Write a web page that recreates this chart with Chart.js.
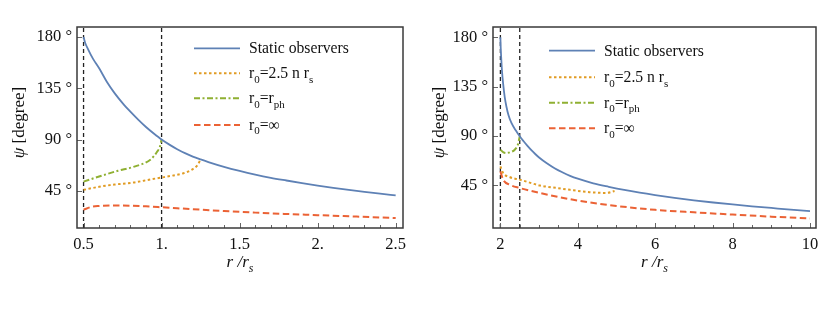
<!DOCTYPE html>
<html>
<head>
<meta charset="utf-8">
<script src="https://cdn.jsdelivr.net/npm/chart.js@4.4.0/dist/chart.umd.min.js"></script>
<style>
  html,body{margin:0;padding:0;background:#fff;}
  #wrap{position:relative;width:830px;height:312px;}
  canvas{position:absolute;top:0;}
  #c1{left:0;} #c2{left:415px;}
</style>
</head>
<body>
<div id="wrap">
<canvas id="c1" width="415" height="312"></canvas>
<canvas id="c2" width="415" height="312"></canvas>
</div>
<script>
// ---------- DATA ----------
// Left panel
const leftStaticX  = [0.5, 0.51, 0.53, 0.56, 0.6, 0.65, 0.7, 0.75, 0.8, 0.85, 0.9, 0.95, 1.0, 1.05, 1.1, 1.15, 1.2, 1.25, 1.3, 1.4, 1.5, 1.6, 1.7, 1.8, 1.9, 2.0, 2.1, 2.2, 2.3, 2.4, 2.5];
const leftStaticY  = [180, 175, 169, 161, 152.5, 140.5, 130.5, 122, 114.5, 107.5, 101, 95.3, 90, 85.5, 81.5, 78, 75, 72.5, 70.2, 66, 62.4, 59.2, 56.4, 54, 51.7, 49.5, 47.5, 45.7, 44.0, 42.4, 40.9];
const leftOrangeX  = [0.5, 0.6, 0.7, 0.82, 0.93, 1.0, 1.07, 1.14, 1.2, 1.23, 1.25];
const leftOrangeY  = [45.8, 48.5, 50.5, 52.2, 55, 56.6, 58.3, 60.4, 64, 67.5, 72.7];
const leftGreenX   = [0.5, 0.61, 0.72, 0.82, 0.93, 0.97, 0.99, 1.0];
const leftGreenY   = [53, 58, 62.5, 66, 72.5, 79, 84, 90];
const leftRedX     = [0.5, 0.55, 0.6, 0.7, 0.8, 0.9, 1.0, 1.2, 1.4, 1.6, 1.8, 2.0, 2.25, 2.5];
const leftRedY     = [28.3, 30.8, 31.6, 32.1, 31.9, 31.3, 30.5, 28.8, 27.2, 25.8, 24.6, 23.6, 22.3, 21];
const leftVLines   = [0.5, 1.0];
const leftXTicks   = [0.5, 1, 1.5, 2, 2.5];
const leftXLabels  = ['0.5', '1.', '1.5', '2.', '2.5'];
const leftXMinorStep = 0.1;

// Right panel
const rightStaticX = [2, 2.008, 2.02, 2.04, 2.07, 2.11, 2.155, 2.21, 2.285, 2.4, 2.5, 2.6, 2.7, 2.8, 2.9, 3.0, 3.2, 3.4, 3.6, 3.8, 4.0, 4.4, 4.8, 5.2, 5.6, 6.0, 6.5, 7.0, 7.5, 8.0, 8.5, 9.0, 9.5, 10];
const rightStaticY = [180, 171, 162, 150, 138, 126, 117, 109, 102, 95, 89.8, 85.3, 81.1, 77.2, 73.7, 70.5, 65.2, 60.7, 57, 53.8, 51.2, 47, 43.8, 40.9, 38.4, 36.2, 33.7, 31.5, 29.5, 27.7, 26.0, 24.5, 23.0, 21.6];
const rightOrangeX = [2, 2.07, 2.25, 2.5, 3.02, 3.5, 3.8, 4.3, 4.75, 4.95];
const rightOrangeY = [62.4, 56.4, 52.5, 50.3, 45, 42.5, 41, 38.9, 38.2, 40];
const rightGreenX  = [2, 2.08, 2.155, 2.25, 2.37, 2.45, 2.5];
const rightGreenY  = [77.6, 75.2, 74.6, 75.3, 77.6, 82, 89.6];
const rightRedX    = [2, 2.07, 2.24, 2.5, 3.02, 3.8, 4.5, 5, 6, 7, 8, 9, 10];
const rightRedY    = [57.8, 50.3, 45.7, 42.7, 38.2, 32.5, 28.5, 26.3, 22.8, 20.5, 18.5, 16.6, 15];
const rightVLines  = [2, 2.5];
const rightXTicks  = [2, 4, 6, 8, 10];
const rightXLabels = ['2', '4', '6', '8', '10'];
const rightXMinorStep = 0.5;

// shared
const yTicks      = [45, 90, 135, 180];
const yTickLabels = ['45 °', '90 °', '135 °', '180 °'];
const legendLabels = [
  [['Static observers','n']],
  [['r','n'],['0','sub'],['=2.5 n r','n'],['s','sub']],
  [['r','n'],['0','sub'],['=r','n'],['ph','sub']],
  [['r','n'],['0','sub'],['=\u221E','n']]
];
const xTitle = [['r /r','i'],['s','subi']];
const yTitle = [['\u03C8','i'],[' [degree]','n']];

// ---------- STYLE ----------
const FONT = '"Liberation Serif", "DejaVu Serif", serif';
const COLORS = ['#5E81B5', '#E19C24', '#8FB032', '#EB6235'];
const DASHES = [[], [2.5, 2.5], [6, 2.5, 2, 2.5], [6.5, 3.5]];
const WIDTHS = [1.8, 2, 2, 2];

function pts(xs, ys){ return xs.map((x,i)=>({x:x, y:ys[i]})); }

function segFont(st, size){
  const it = (st==='i'||st==='subi') ? 'italic ' : '';
  const sz = (st==='sub'||st==='subi') ? size*0.7 : size;
  return it + sz + 'px ' + FONT;
}
function richWidth(ctx, segs, size){
  let w=0; segs.forEach(([t,st])=>{ctx.font=segFont(st,size); w+=ctx.measureText(t).width;}); return w;
}
function drawRich(ctx, segs, x, y, size){
  let cx = x;
  segs.forEach(([t,st])=>{
    ctx.font = segFont(st,size);
    const dy = (st==='sub'||st==='subi') ? size*0.28 : 0;
    ctx.fillText(t, cx, y+dy);
    cx += ctx.measureText(t).width;
  });
}

const decorPlugin = {
  id:'decor',
  afterDraw(chart, args, o){
    const {ctx, chartArea:a, scales:{x,y}} = chart;
    ctx.save();
    ctx.strokeStyle = '#666'; ctx.lineWidth = 1; ctx.setLineDash([]);
    const eps = 1e-6;
    for(let v = Math.ceil(x.min/o.minorStep - eps)*o.minorStep; v <= x.max+eps; v += o.minorStep){
      const px = Math.round(x.getPixelForValue(v))+0.5;
      const major = o.xMajor.some(m=>Math.abs(m-v)<1e-6);
      ctx.beginPath(); ctx.moveTo(px, a.bottom); ctx.lineTo(px, a.bottom-(major?5:3)); ctx.stroke();
    }
    o.yMajor.forEach(v=>{
      const py = Math.round(y.getPixelForValue(v))+0.5;
      ctx.beginPath(); ctx.moveTo(a.left, py); ctx.lineTo(a.left+5, py); ctx.stroke();
    });
    ctx.strokeStyle = '#3a3a3a'; ctx.lineWidth = 1.5;
    ctx.strokeRect(a.left, a.top, a.right-a.left, a.bottom-a.top);
    ctx.fillStyle = '#111'; ctx.textBaseline = 'alphabetic';
    o.legendRows.forEach((ry, i)=>{
      const ds = chart.data.datasets[i];
      ctx.strokeStyle = ds.borderColor; ctx.lineWidth = ds.borderWidth;
      ctx.setLineDash(ds.borderDash || []);
      ctx.beginPath(); ctx.moveTo(o.legX0, ry); ctx.lineTo(o.legX1, ry); ctx.stroke();
      ctx.setLineDash([]);
      drawRich(ctx, legendLabels[i], o.legText, ry+5, 15.7);
    });
    const w = richWidth(ctx, xTitle, 17);
    drawRich(ctx, xTitle, (a.left+a.right)/2 - w/2, 267, 17);
    ctx.save();
    ctx.translate(o.yTitleX, (a.top+a.bottom)/2 - 5);
    ctx.rotate(-Math.PI/2);
    const wy = richWidth(ctx, yTitle, 17);
    drawRich(ctx, yTitle, -wy/2, 6, 17);
    ctx.restore();
    ctx.restore();
  }
};

function makeChart(id, d){
  const datasets = [
    {data: pts(d.sx, d.sy)},
    {data: pts(d.ox, d.oy)},
    {data: pts(d.gx, d.gy)},
    {data: pts(d.rx, d.ry)}
  ].map((ds,i)=>Object.assign(ds, {
    borderColor: COLORS[i], borderWidth: WIDTHS[i], borderDash: DASHES[i],
    pointRadius: 0, cubicInterpolationMode: 'monotone', fill:false, order:0
  }));
  d.vlines.forEach(v=>{
    datasets.push({data:[{x:v,y:d.ymin},{x:v,y:d.ymax}], borderColor:'#222', borderWidth:1.3,
      borderDash:[4,3], pointRadius:0, fill:false, order:1});
  });
  return new Chart(document.getElementById(id), {
    type:'line',
    data:{datasets: datasets},
    options:{
      responsive:false, animation:false, devicePixelRatio:1,
      layout:{padding:{top:27, right:d.padRight, left:0, bottom:0}},
      plugins:{legend:{display:false}, tooltip:{enabled:false},
        decor:{minorStep:d.minorStep, xMajor:d.xticks, yMajor:yTicks, legendRows:d.legRows,
               legX0:d.legX0, legX1:d.legX1, legText:d.legText, yTitleX:d.yTitleX}},
      scales:{
        x:{type:'linear', min:d.xmin, max:d.xmax,
           afterBuildTicks:(s)=>{s.ticks = d.xticks.map(v=>({value:v}));},
           afterFit:(s)=>{s.height = 84;},
           grid:{display:false, drawTicks:false}, border:{display:false},
           ticks:{padding:7, color:'#111', font:{family:FONT, size:16.5}, maxRotation:0,
             callback:(v)=>{const k=d.xticks.findIndex(t=>Math.abs(t-v)<1e-9); return k>=0?d.xlabels[k]:'';}}},
        y:{type:'linear', min:d.ymin, max:d.ymax,
           afterBuildTicks:(s)=>{s.ticks = yTicks.map(v=>({value:v}));},
           afterFit:(s)=>{s.width = d.yWidth;},
           grid:{display:false, drawTicks:false}, border:{display:false},
           ticks:{padding:5, color:'#111', font:{family:FONT, size:16.5},
             callback:(v)=>{const k=yTicks.indexOf(v); return k>=0?yTickLabels[k]:'';}}}
      }
    },
    plugins:[decorPlugin]
  });
}

makeChart('c1', {
  sx:leftStaticX, sy:leftStaticY, ox:leftOrangeX, oy:leftOrangeY,
  gx:leftGreenX, gy:leftGreenY, rx:leftRedX, ry:leftRedY, vlines:leftVLines,
  xmin:0.458, xmax:2.547, ymin:12.3, ymax:188.8,
  xticks:leftXTicks, xlabels:leftXLabels, minorStep:leftXMinorStep,
  padRight:12, yWidth:77, legRows:[48.3, 73.3, 98.3, 125], legX0:194, legX1:240, legText:249, yTitleX:18
});
makeChart('c2', {
  sx:rightStaticX, sy:rightStaticY, ox:rightOrangeX, oy:rightOrangeY,
  gx:rightGreenX, gy:rightGreenY, rx:rightRedX, ry:rightRedY, vlines:rightVLines,
  xmin:1.809, xmax:10.155, ymin:6.25, ymax:189.4,
  xticks:rightXTicks, xlabels:rightXLabels, minorStep:rightXMinorStep,
  padRight:14, yWidth:78, legRows:[50.7, 77.3, 102.7, 128.3], legX0:549-415, legX1:595-415, legText:604-415, yTitleX:438-415
});
</script>
</body>
</html>
